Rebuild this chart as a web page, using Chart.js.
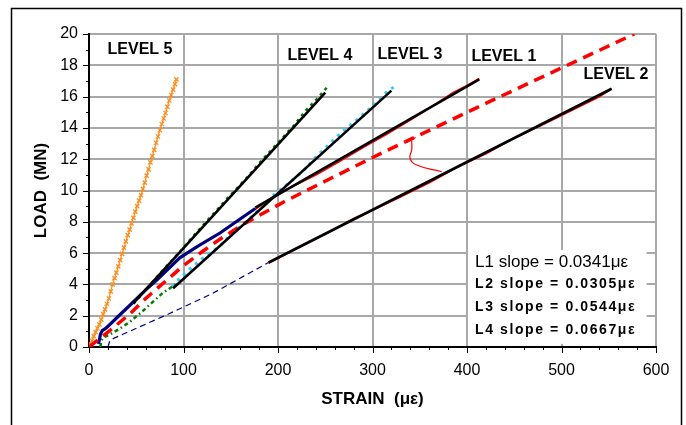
<!DOCTYPE html>
<html>
<head>
<meta charset="utf-8">
<script src="https://cdn.jsdelivr.net/npm/chart.js@4.4.1/dist/chart.umd.min.js"></script>
<style>
  html, body { margin: 0; padding: 0; background: #fff; }
  #wrap { width: 686px; height: 425px; }
</style>
</head>
<body>
<div id="wrap"><canvas id="myChart" width="686" height="425"></canvas></div>
<script>
// Readings taken off the plot: strain in με, load in MN

// Level 5 (orange, x markers)
const l5Strain = [0, 1.5, 3, 5, 7, 9, 11, 13, 15, 17, 19, 21, 23, 25, 27, 29, 31, 33, 35, 37, 39, 41, 43, 45,
  47, 49, 51, 53, 55, 57, 59, 61, 63, 65, 67, 69, 71, 73, 75, 77, 79, 81, 83, 85, 87, 89, 91, 92.5];
const l5Load = [0, 0.2, 0.4, 0.7, 0.95, 1.2, 1.45, 1.75, 2.1, 2.4, 2.75, 3.1, 3.55, 4.0, 4.4, 4.75, 5.15, 5.55, 5.95, 6.35, 6.75, 7.15, 7.5, 7.9,
  8.25, 8.65, 9.0, 9.35, 9.7, 10.1, 10.5, 10.95, 11.35, 11.8, 12.2, 12.6, 13.05, 13.45, 13.85, 14.25, 14.6, 14.95, 15.35, 15.75, 16.1, 16.45, 16.8, 17.1];

// Level 1 first loading (thick navy) and later readings (thin red)
const l1EarlyStrain = [10, 11, 12, 14, 18, 30, 43, 60, 72, 84, 96, 114, 139, 158, 176];
const l1EarlyLoad = [0.2, 0.45, 0.8, 1.05, 1.2, 1.9, 2.65, 3.65, 4.3, 5.0, 5.7, 6.4, 7.3, 8.1, 8.85];
const l1Strain = [176, 195, 215, 240, 265, 290, 315, 340, 365, 385, 400, 413];
const l1Load = [8.8, 9.6, 10.25, 11.0, 11.85, 12.75, 13.6, 14.5, 15.45, 16.25, 16.7, 17.15];

// Level 2 first loading (thin navy dashed) and later readings (thin red)
const l2EarlyStrain = [20, 22, 26, 82, 130, 190];
const l2EarlyLoad = [0, 0.4, 0.55, 2.05, 3.4, 5.4];
const l2Strain = [190, 220, 250, 280, 300, 330, 360, 390, 420, 450, 480, 510, 540, 553];
const l2Load = [5.35, 6.3, 7.2, 8.2, 8.75, 9.6, 10.5, 11.5, 12.35, 13.35, 14.2, 15.1, 16.0, 16.5];

// Level 3 (cyan dots)
const l3Strain = [88, 96, 106, 115, 126, 137, 151, 165, 180, 197, 212, 226, 241, 254, 266, 285, 303, 316, 325];
const l3Load = [3.85, 4.4, 4.95, 5.4, 5.95, 6.35, 7.25, 7.95, 8.75, 9.8, 10.5, 11.2, 12.2, 12.95, 13.65, 14.6, 15.55, 16.35, 16.7];

// Level 4 (green dots), lower branch and upper branch
const l4LowStrain = [12, 13, 15, 22, 32, 43, 56, 67, 78, 88, 93];
const l4LowLoad = [0, 0.4, 0.6, 0.8, 1.15, 1.6, 2.25, 2.85, 3.45, 3.85, 4.05];
const l4Strain = [47, 62, 78, 95, 112, 130, 148, 166, 184, 200, 216, 230, 242, 252];
const l4Load = [2.75, 3.8, 4.9, 6.0, 7.2, 8.4, 9.6, 10.75, 12.0, 13.05, 14.1, 15.15, 15.9, 16.6];

// Thick red dashed curve
const dashStrain = [0, 20, 43, 60, 80, 100, 120, 140, 165, 207, 255, 315, 364, 414, 467, 577];
const dashLoad = [0, 0.95, 2.1, 3.1, 4.15, 5.2, 6.1, 6.95, 7.9, 9.3, 10.75, 12.55, 13.95, 15.4, 16.9, 20];

// Straight fits (black), end points
const fitL1 = [[176, 8.9], [413, 17.1]];
const fitL2 = [[190, 5.4], [553, 16.5]];
const fitL3 = [[89, 3.75], [320, 16.38]];
const fitL4 = [[47, 2.8], [250, 16.25]];

// Hand drawn pointer from the dashed curve to level 2
const arrowStrain = [341.5, 341.5, 339.7, 346.8, 373.2];
const arrowLoad = [13.2, 12.6, 12.06, 11.63, 11.2];

const slopeLines = ['L1 slope = 0.0341\u03bc\u03b5', 'L2 slope = 0.0305\u03bc\u03b5', 'L3 slope = 0.0544\u03bc\u03b5', 'L4 slope = 0.0667\u03bc\u03b5'];
const levelNames = ['LEVEL 5', 'LEVEL 4', 'LEVEL 3', 'LEVEL 1', 'LEVEL 2'];

const FONT = '"Liberation Sans", Arial, sans-serif';

const pts = (xs, ys) => xs.map((x, i) => ({ x: x, y: ys[i] }));
const pairs = (arr) => arr.map((p) => ({ x: p[0], y: p[1] }));

const line = (data, color, width, extra) => Object.assign({
  data: data,
  showLine: true,
  borderColor: color,
  backgroundColor: color,
  borderWidth: width,
  pointRadius: 0,
  tension: 0,
  fill: false,
}, extra || {});

// extra drawing: frame, minor ticks, slope box, level labels
const decorations = {
  id: 'decorations',
  beforeDatasetsDraw(chart) {
    const { ctx, scales: { x, y } } = chart;
    // white box with slopes, covers the grid
    const bx = x.getPixelForValue(401), by = y.getPixelForValue(6.2);
    const bw = x.getPixelForValue(590) - bx, bh = y.getPixelForValue(0.2) - by;
    ctx.save();
    ctx.fillStyle = '#fff';
    ctx.fillRect(bx, by, bw, bh);
    ctx.fillStyle = '#000';
    ctx.textBaseline = 'middle';
    ctx.textAlign = 'left';
    const tx = x.getPixelForValue(408.5);
    ctx.font = '17px ' + FONT;
    ctx.fillText(slopeLines[0], tx, y.getPixelForValue(5.39));
    ctx.font = 'bold 14px ' + FONT;
    const rows = [4.0, 2.53, 1.09];
    for (let i = 1; i < slopeLines.length; i++) {
      let cx = tx;
      const cy = y.getPixelForValue(rows[i - 1]);
      for (const ch of slopeLines[i]) {
        ctx.fillText(ch, cx, cy);
        cx += ctx.measureText(ch).width + 1.6;
      }
    }
    ctx.restore();
  },
  afterDraw(chart) {
    const { ctx, chartArea: a, scales: { x, y } } = chart;
    ctx.save();
    // outer frame (runs off the bottom of the picture)
    ctx.strokeStyle = '#000';
    ctx.lineWidth = 1.5;
    ctx.strokeRect(11.5, 8.5, 670, 440);
    // major and minor tick marks
    ctx.lineWidth = 1;
    ctx.beginPath();
    for (let v = 0; v <= 20; v++) {
      const py = Math.round(y.getPixelForValue(v)) + 0.5;
      ctx.moveTo(a.left - (v % 2 === 0 ? 6 : 3), py);
      ctx.lineTo(a.left, py);
    }
    for (let v = 0; v <= 600; v += 20) {
      const px = Math.round(x.getPixelForValue(v)) + 0.5;
      ctx.moveTo(px, a.bottom);
      ctx.lineTo(px, a.bottom + (v % 100 === 0 ? 6 : 3));
    }
    ctx.stroke();
    // level captions
    ctx.fillStyle = '#000';
    ctx.font = 'bold 16px ' + FONT;
    ctx.textAlign = 'center';
    ctx.textBaseline = 'middle';
    const spots = [[54, 18.98], [244.4, 18.6], [339.7, 18.66], [439, 18.53], [557.7, 17.38]];
    levelNames.forEach((name, i) => {
      ctx.fillText(name, x.getPixelForValue(spots[i][0]), y.getPixelForValue(spots[i][1]));
    });
    // small arrow head at the top of the pointer
    const meta = chart.getDatasetMeta(chart.data.datasets.length - 1);
    const p0 = meta.data[0];
    ctx.strokeStyle = '#FF0000';
    ctx.lineWidth = 1.2;
    ctx.beginPath();
    ctx.moveTo(p0.x - 5, p0.y + 2);
    ctx.lineTo(p0.x, p0.y - 1);
    ctx.lineTo(p0.x + 4, p0.y - 3);
    ctx.stroke();
    ctx.restore();
  },
};

const gridColor = '#a8a8a8';

new Chart(document.getElementById('myChart'), {
  type: 'scatter',
  data: {
    datasets: [
      line(pairs(fitL1), '#000', 2.6),
      line(pairs(fitL2), '#000', 2.6),
      line(pairs(fitL3), '#000', 2.6),
      line(pairs(fitL4), '#000', 2.6),
      line(pts(dashStrain, dashLoad), '#FF0000', 3.5, { borderDash: [11, 7] }),
      line(pts(l5Strain, l5Load), '#FF8C1A', 1.2, {
        pointRadius: 3, pointStyle: 'crossRot', pointBorderWidth: 1.3,
      }),
      line(pts(l1EarlyStrain, l1EarlyLoad), '#000080', 3.2),
      line(pts(l1Strain, l1Load), '#FF0000', 1.8),
      line(pts(l2Strain, l2Load), '#FF0000', 1.8),
      line(pts(l4Strain, l4Load), '#008000', 2.5, { borderDash: [3, 4] }),
      line(pts(l4LowStrain, l4LowLoad), '#008000', 2.5, { borderDash: [4, 3, 1.5, 3] }),
      line(pts(l3Strain, l3Load), '#33CCFF', 3, { borderDash: [3, 5] }),
      line(pts(l2EarlyStrain, l2EarlyLoad), '#000080', 1.2, { borderDash: [6, 4] }),
      line(pts(arrowStrain, arrowLoad), '#FF0000', 1.2, { tension: 0.5 }),
    ],
  },
  options: {
    responsive: false,
    animation: false,
    layout: { padding: { top: 34, right: 30, left: 0, bottom: 0 } },
    plugins: {
      legend: { display: false },
      tooltip: { enabled: false },
    },
    scales: {
      x: {
        type: 'linear',
        min: 0,
        max: 600,
        afterFit: (s) => { s.height = 78; },
        ticks: { stepSize: 100, padding: 14, color: '#000', font: { family: FONT, size: 16 } },
        grid: { color: gridColor, lineWidth: 2, drawTicks: false },
        border: { color: '#000', width: 2 },
        title: {
          display: true,
          text: 'STRAIN  (\u03bc\u03b5)',
          color: '#000',
          font: { family: FONT, size: 17, weight: 'bold' },
          padding: { top: 0, bottom: 15 },
        },
      },
      y: {
        type: 'linear',
        min: 0,
        max: 20,
        afterFit: (s) => { s.width = 89; },
        ticks: { stepSize: 2, padding: 11, color: '#000', font: { family: FONT, size: 16 } },
        grid: { color: gridColor, lineWidth: 2, drawTicks: false },
        border: { color: '#000', width: 2 },
        title: {
          display: true,
          text: 'LOAD  (MN)',
          color: '#000',
          font: { family: FONT, size: 17, weight: 'bold' },
          padding: { top: 31, bottom: 0 },
        },
      },
    },
  },
  plugins: [decorations],
});
</script>
</body>
</html>
